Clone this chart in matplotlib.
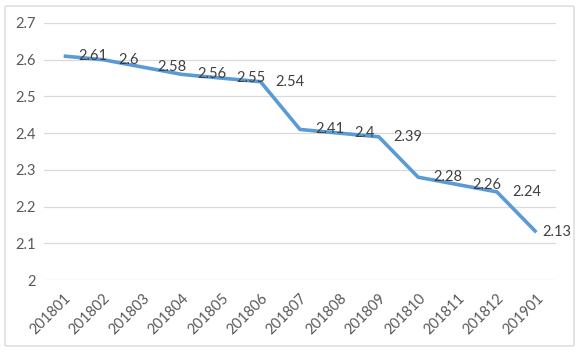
import matplotlib
matplotlib.use("Agg")
import matplotlib.pyplot as plt
from matplotlib.patches import FancyBboxPatch
from matplotlib.transforms import offset_copy

categories = ["201801", "201802", "201803", "201804", "201805", "201806", "201807",
              "201808", "201809", "201810", "201811", "201812", "201901"]
values = [2.61, 2.6, 2.58, 2.56, 2.55, 2.54, 2.41, 2.4, 2.39, 2.28, 2.26, 2.24, 2.13]
value_labels = ["2.61", "2.6", "2.58", "2.56", "2.55", "2.54", "2.41", "2.4", "2.39",
                "2.28", "2.26", "2.24", "2.13"]
yticks = [2, 2.1, 2.2, 2.3, 2.4, 2.5, 2.6, 2.7]
ytick_labels = ["2", "2.1", "2.2", "2.3", "2.4", "2.5", "2.6", "2.7"]

plt.rcParams['font.family'] = ['Lato', 'DejaVu Sans']
text_color = "#595959"
grid_color = "#D9D9D9"
line_color = "#5B9BD5"

fig = plt.figure(figsize=(5.8, 3.52), dpi=100)
fig.patch.set_facecolor("white")

border = FancyBboxPatch((5/580, 6/352), 569/580, 340/352,
                        boxstyle="round,pad=0,rounding_size=0.004",
                        transform=fig.transFigure, facecolor="none",
                        edgecolor=grid_color, linewidth=1.0, zorder=-1)
fig.patches.append(border)

ax = fig.add_axes([44/580, 1 - 280/352, 512/580, 257/352])
ax.set_facecolor("none")
x = list(range(len(categories)))
ax.plot(x, values, color=line_color, linewidth=2.6, solid_capstyle="butt",
        solid_joinstyle="miter", zorder=3)

ax.set_xlim(-0.5, len(categories) - 0.5)
ax.set_ylim(2, 2.7)
ax.set_yticks(yticks)
ax.set_yticklabels(ytick_labels)
ax.set_xticks(x)
ax.set_xticklabels(categories, rotation=45, ha="right", rotation_mode="anchor")

for s in ax.spines.values():
    s.set_visible(False)
ax.grid(axis="y", color=grid_color, linewidth=0.9)
ax.set_axisbelow(True)
ax.tick_params(axis="both", length=0, colors=text_color, labelsize=10.5)
ax.tick_params(axis="y", pad=6)
ax.tick_params(axis="x", pad=8)

for i, (v, lab) in enumerate(zip(values, value_labels)):
    dx = 6 if i == len(values) - 1 else 15
    tr = offset_copy(ax.transData, fig=fig, x=dx, y=0, units="dots")
    ax.text(i, v, lab, transform=tr, ha="left", va="center",
            color="#404040", fontsize=10.5, zorder=4)

fig.savefig("out.png", dpi=100, facecolor="white")
